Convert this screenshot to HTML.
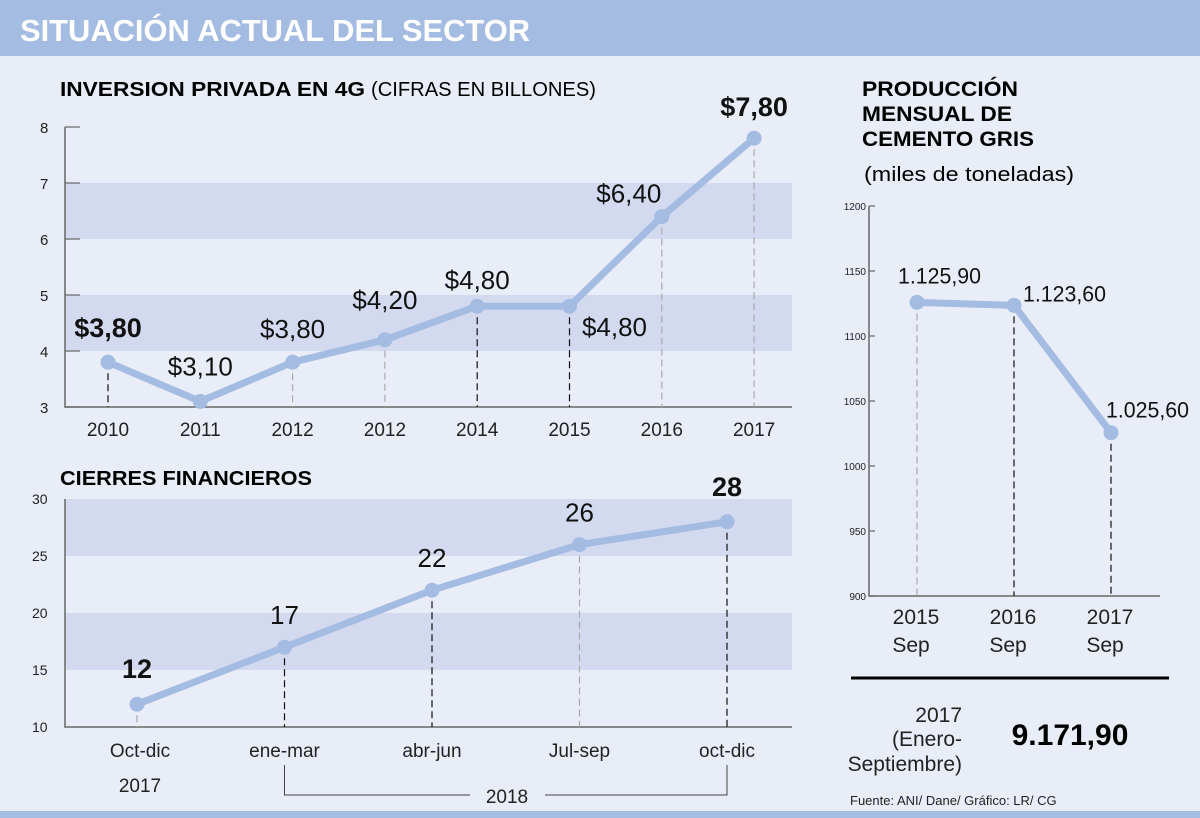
<!DOCTYPE html>
<html><head><meta charset="utf-8"><style>
html,body{margin:0;padding:0;width:1200px;height:818px;background:#e9edf7;overflow:hidden}
svg{display:block;font-family:"Liberation Sans",sans-serif}
</style></head><body>
<svg id="g" width="1200" height="818" viewBox="0 0 1200 818">
<rect x="0" y="0" width="1200" height="56" fill="#a4bce2"/>
<text x="20" y="41" font-size="31" font-weight="bold" fill="#fff" textLength="510" lengthAdjust="spacingAndGlyphs">SITUACIÓN ACTUAL DEL SECTOR</text>
<rect x="0" y="811" width="1200" height="7" fill="#a4bce2"/>
<text x="60" y="96" font-size="20" fill="#000"><tspan font-weight="bold" textLength="305" lengthAdjust="spacingAndGlyphs">INVERSION PRIVADA EN 4G</tspan><tspan dx="6" textLength="225" lengthAdjust="spacingAndGlyphs">(CIFRAS EN BILLONES)</tspan></text>
<text x="60" y="485" font-size="20" font-weight="bold" textLength="252" lengthAdjust="spacingAndGlyphs">CIERRES FINANCIEROS</text>
<text x="862" y="96" font-size="21" font-weight="bold"><tspan x="862" textLength="156" lengthAdjust="spacingAndGlyphs">PRODUCCIÓN</tspan><tspan x="862" dy="25" textLength="150" lengthAdjust="spacingAndGlyphs">MENSUAL DE</tspan><tspan x="862" dy="25" textLength="172" lengthAdjust="spacingAndGlyphs">CEMENTO GRIS</tspan></text>
<text x="864" y="181" font-size="20" textLength="210" lengthAdjust="spacingAndGlyphs">(miles de toneladas)</text>
<line x1="851" y1="678" x2="1169" y2="678" stroke="#000" stroke-width="3"/>
<text font-size="21" text-anchor="end" fill="#222"><tspan x="962" y="722">2017</tspan><tspan x="962" y="746">(Enero-</tspan><tspan x="962" y="771">Septiembre)</tspan></text>
<text x="1070" y="745" font-size="30" font-weight="bold" text-anchor="middle">9.171,90</text>
<text x="850" y="805" font-size="13" fill="#222">Fuente: ANI/ Dane/ Gráfico: LR/ CG</text>
<g id="c1"></g><g id="c2"></g><g id="c3"></g>
</svg>
<script>
const c1Cats=["2010","2011","2012","2012","2014","2015","2016","2017"];
const c1Vals=[3.8,3.1,3.8,4.2,4.8,4.8,6.4,7.8];
const c1Labels=["$3,80","$3,10","$3,80","$4,20","$4,80","$4,80","$6,40","$7,80"];
const c1Ticks=[3,4,5,6,7,8];
const c2Cats=["Oct-dic","ene-mar","abr-jun","Jul-sep","oct-dic"];
const c2Vals=[12,17,22,26,28];
const c2Ticks=[10,15,20,25,30];
const c3Cats=["2015","2016","2017"];
const c3Vals=[1125.9,1123.6,1025.6];
const c3Labels=["1.125,90","1.123,60","1.025,60"];
const c3Ticks=[900,950,1000,1050,1100,1150,1200];
const NS="http://www.w3.org/2000/svg";
function mk(p,t,a,txt){const e=document.createElementNS(NS,t);for(const k in a)e.setAttribute(k,a[k]);if(txt!=null)e.textContent=txt;p.appendChild(e);return e;}
const LC="#a4bce2";
// chart 1
(function(){
const g=document.getElementById('c1');
const x0=65,x1=792,yTop=127,yBot=407,vMin=3,vMax=8;
const y=v=>yBot-(v-vMin)/(vMax-vMin)*(yBot-yTop);
const x=i=>108+i*92.3;
[[6,7],[4,5]].forEach(b=>{const r=mk(g,'rect',{x:x0,y:y(b[1]),width:x1-x0,height:y(b[0])-y(b[1]),fill:'#d3daf0'});

});
c1Ticks.forEach(t=>{const l=mk(g,'line',{x1:x0,x2:x0+15,y1:y(t),y2:y(t),stroke:'#666','stroke-width':1.2});


const tx=mk(g,'text',{x:x0-25,y:y(t)+6,'font-size':15,fill:'#222'},String(t));

});
const ax=mk(g,'path',{d:`M${x0} ${yTop}V${yBot}H${x1}`,fill:'none',stroke:'#666','stroke-width':1.5});


const dark=[1,0,0,0,1,1,0,0];
c1Vals.forEach((v,i)=>{const l=mk(g,'line',{x1:x(i),x2:x(i),y1:y(v),y2:yBot,stroke:dark[i]?'#111':'#aaa','stroke-width':1.2,'stroke-dasharray':'7 4'});


const t=mk(g,'text',{x:x(i),y:436,'font-size':19,'text-anchor':'middle',fill:'#222'},c1Cats[i]);

});
const pl=mk(g,'polyline',{points:c1Vals.map((v,i)=>x(i)+','+y(v)).join(' '),fill:'none',stroke:LC,'stroke-width':7,'stroke-linejoin':'round'});


const offs=[[0,-25],[0,-26],[0,-24],[0,-31],[0,-17],[45,30],[-33,-14],[0,-22]];
c1Vals.forEach((v,i)=>{const c=mk(g,'circle',{cx:x(i),cy:y(v),r:7.5,fill:LC});


const bold=(i==0||i==7);
const t=mk(g,'text',{x:x(i)+offs[i][0],y:y(v)+offs[i][1],'font-size':bold?27:26,'font-weight':bold?'bold':'normal','text-anchor':'middle',fill:'#111'},c1Labels[i]);

});
})();
// chart 2
(function(){
const g=document.getElementById('c2');
const x0=65,x1=792,yTop=499,yBot=727,vMin=10,vMax=30;
const y=v=>yBot-(v-vMin)/(vMax-vMin)*(yBot-yTop);
const x=i=>137+i*147.5;
[[25,30],[15,20]].forEach(b=>{const r=mk(g,'rect',{x:x0,y:y(b[1]),width:x1-x0,height:y(b[0])-y(b[1]),fill:'#d3daf0'});

});
c2Ticks.forEach(t=>{const tx=mk(g,'text',{x:x0-33,y:y(t)+5,'font-size':14,fill:'#222'},String(t));

});
const ax=mk(g,'path',{d:`M${x0} ${yTop}V${yBot}H${x1}`,fill:'none',stroke:'#666','stroke-width':1.5});


const dark=[0,1,1,0,1];
c2Vals.forEach((v,i)=>{const l=mk(g,'line',{x1:x(i),x2:x(i),y1:y(v),y2:yBot,stroke:dark[i]?'#111':'#aaa','stroke-width':1.2,'stroke-dasharray':'7 4'});


const t=mk(g,'text',{x:x(i)+(i==0?3:0),y:757,'font-size':19,'text-anchor':'middle',fill:'#222'},c2Cats[i]);

});
const t17=mk(g,'text',{x:x(0)+3,y:792,'font-size':19,'text-anchor':'middle',fill:'#222'},'2017');


const br=mk(g,'path',{d:`M${x(1)} 765V795H470M545 795H${x(4)}V765`,fill:'none',stroke:'#444','stroke-width':1});


const t18=mk(g,'text',{x:507,y:803,'font-size':19,'text-anchor':'middle',fill:'#222'},'2018');


const pl=mk(g,'polyline',{points:c2Vals.map((v,i)=>x(i)+','+y(v)).join(' '),fill:'none',stroke:LC,'stroke-width':7,'stroke-linejoin':'round'});


c2Vals.forEach((v,i)=>{const c=mk(g,'circle',{cx:x(i),cy:y(v),r:7.5,fill:LC});


const bold=(i==0||i==4);
const t=mk(g,'text',{x:x(i),y:y(v)-(bold?26:23),'font-size':bold?27:26,'font-weight':bold?'bold':'normal','text-anchor':'middle',fill:'#111'},String(v));

});
})();
// chart 3
(function(){
const g=document.getElementById('c3');
const x0=869,x1=1160,yTop=206,yBot=596,vMin=900,vMax=1200;
const y=v=>yBot-(v-vMin)/(vMax-vMin)*(yBot-yTop);
const x=i=>917+i*97;
c3Ticks.forEach(t=>{const l=mk(g,'line',{x1:x0,x2:x0+6,y1:y(t),y2:y(t),stroke:'#666','stroke-width':1.2});


const tx=mk(g,'text',{x:x0-3,y:y(t)+4,'font-size':10,'text-anchor':'end',fill:'#222'},String(t));

});
const ax=mk(g,'path',{d:`M${x0} ${yTop}V${yBot}H${x1}`,fill:'none',stroke:'#666','stroke-width':1.5});


const dark=[0,1,1];
c3Vals.forEach((v,i)=>{const l=mk(g,'line',{x1:x(i),x2:x(i),y1:y(v),y2:yBot,stroke:dark[i]?'#111':'#aaa','stroke-width':1.2,'stroke-dasharray':'7 4'});


const t=mk(g,'text',{x:x(i)-1,y:624,'font-size':21,'text-anchor':'middle',fill:'#222'},c3Cats[i]);


const s=mk(g,'text',{x:x(i)-6,y:652,'font-size':21,'text-anchor':'middle',fill:'#222'},'Sep');

});
const pl=mk(g,'polyline',{points:c3Vals.map((v,i)=>x(i)+','+y(v)).join(' '),fill:'none',stroke:LC,'stroke-width':7,'stroke-linejoin':'round'});


const offs=[[-19,-19],[9,-4],[-5,-15]];
c3Vals.forEach((v,i)=>{const c=mk(g,'circle',{cx:x(i),cy:y(v),r:7.5,fill:LC});


const t=mk(g,'text',{x:x(i)+offs[i][0],y:y(v)+offs[i][1],'font-size':22,fill:'#111',textLength:83,lengthAdjust:'spacingAndGlyphs'},c3Labels[i]);

});
})();
</script>
</body></html>
